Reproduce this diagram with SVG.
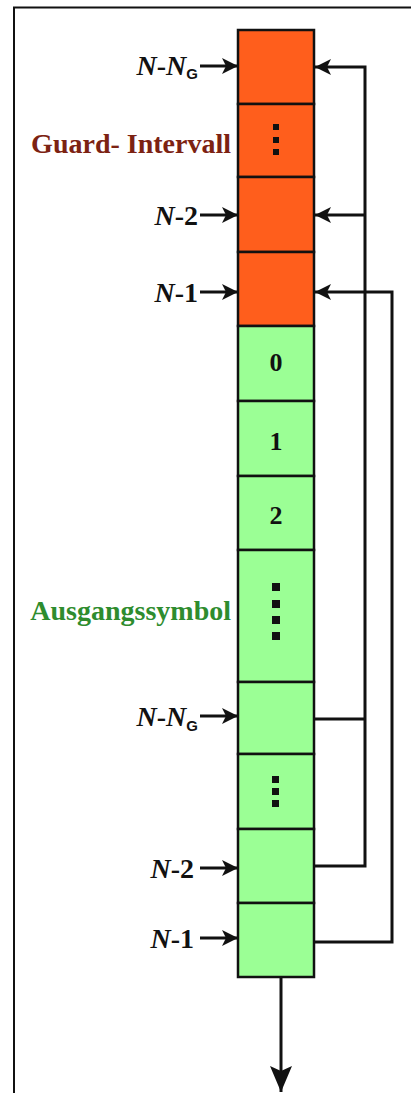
<svg xmlns="http://www.w3.org/2000/svg" width="411" height="1093" viewBox="0 0 411 1093">
<style>
.og{fill:#FF5E1C;stroke:#111;stroke-width:2.5}
.gr{fill:#9BFF95;stroke:#111;stroke-width:2.5}
.ln{fill:none;stroke:#111;stroke-width:3}
.lbl{font-family:"Liberation Serif",serif;font-size:28px;font-weight:bold;fill:#111}
.it{font-style:italic}
.sub{font-family:"Liberation Sans",sans-serif;font-size:15px;font-weight:bold}
.num{font-family:"Liberation Serif",serif;font-size:26px;font-weight:bold;fill:#111;text-anchor:middle}
.dot{fill:#111}
</style>
<defs>
<marker id="ah" viewBox="0 0 16 16" refX="16" refY="8" markerWidth="16" markerHeight="16" markerUnits="userSpaceOnUse" orient="auto">
<path d="M0,0 L16,8 L0,16 L4,8 Z" fill="#111"/>
</marker>
<marker id="ahb" viewBox="0 0 26 22" refX="26" refY="11" markerWidth="26" markerHeight="22" markerUnits="userSpaceOnUse" orient="auto">
<path d="M0,0 L26,11 L0,22 L5,11 Z" fill="#111"/>
</marker>
</defs>
<rect width="411" height="1093" fill="#fff"/>
<path d="M14,1093 V7.5 H411" fill="none" stroke="#111" stroke-width="2"/>

<g id="cell-1"><rect class="og" x="238" y="30" width="76" height="74"/></g>
<g id="cell-2"><rect class="og" x="238" y="104" width="76" height="73"/>
<rect class="dot" x="273" y="124" width="6" height="6"/><rect class="dot" x="273" y="137" width="6" height="6"/><rect class="dot" x="273" y="149" width="6" height="6"/></g>
<g id="cell-3"><rect class="og" x="238" y="177" width="76" height="75"/></g>
<g id="cell-4"><rect class="og" x="238" y="252" width="76" height="74"/></g>
<g id="cell-5"><rect class="gr" x="238" y="326" width="76" height="75"/><text class="num" x="276" y="371">0</text></g>
<g id="cell-6"><rect class="gr" x="238" y="401" width="76" height="75"/><text class="num" x="276" y="450">1</text></g>
<g id="cell-7"><rect class="gr" x="238" y="476" width="76" height="74"/><text class="num" x="276" y="524">2</text></g>
<g id="cell-8"><rect class="gr" x="238" y="550" width="76" height="132"/>
<rect class="dot" x="272" y="583" width="8" height="8"/><rect class="dot" x="272" y="600" width="8" height="8"/><rect class="dot" x="272" y="616" width="8" height="8"/><rect class="dot" x="272" y="632" width="8" height="8"/></g>
<g id="cell-9"><rect class="gr" x="238" y="682" width="76" height="72"/></g>
<g id="cell-10"><rect class="gr" x="238" y="754" width="76" height="75"/>
<rect class="dot" x="272" y="776" width="7" height="7"/><rect class="dot" x="272" y="788" width="7" height="7"/><rect class="dot" x="272" y="800" width="7" height="7"/></g>
<g id="cell-11"><rect class="gr" x="238" y="829" width="76" height="74"/></g>
<g id="cell-12"><rect class="gr" x="238" y="903" width="76" height="74"/></g>

<g id="labels">
<text class="lbl" x="198" y="75" text-anchor="end"><tspan class="it">N</tspan>-<tspan class="it">N</tspan><tspan class="sub" dy="4">G</tspan></text>
<text class="lbl" x="231" y="153" text-anchor="end" style="fill:#7C2212">Guard- Intervall</text>
<text class="lbl" x="198" y="225" text-anchor="end"><tspan class="it">N</tspan>-2</text>
<text class="lbl" x="198" y="302" text-anchor="end"><tspan class="it">N</tspan>-1</text>
<text class="lbl" x="231" y="620" text-anchor="end" style="fill:#2E8C2E">Ausgangssymbol</text>
<text class="lbl" x="198" y="726" text-anchor="end"><tspan class="it">N</tspan>-<tspan class="it">N</tspan><tspan class="sub" dy="5">G</tspan></text>
<text class="lbl" x="194" y="878" text-anchor="end"><tspan class="it">N</tspan>-2</text>
<text class="lbl" x="194" y="948" text-anchor="end"><tspan class="it">N</tspan>-1</text>
</g>

<g id="connectors">
<line class="ln" x1="200" y1="66" x2="238" y2="66" marker-end="url(#ah)"/>
<line class="ln" x1="200" y1="215" x2="238" y2="215" marker-end="url(#ah)"/>
<line class="ln" x1="200" y1="292" x2="238" y2="292" marker-end="url(#ah)"/>
<line class="ln" x1="200" y1="716" x2="238" y2="716" marker-end="url(#ah)"/>
<line class="ln" x1="200" y1="868" x2="238" y2="868" marker-end="url(#ah)"/>
<line class="ln" x1="200" y1="938" x2="238" y2="938" marker-end="url(#ah)"/>
<path class="ln" d="M314,866 H365 V67 H315" marker-end="url(#ah)"/>
<path class="ln" d="M314,719 H365"/>
<path class="ln" d="M365,215 H315" marker-end="url(#ah)"/>
<path class="ln" d="M314,942 H392 V292 H315" marker-end="url(#ah)"/>
<line class="ln" x1="281" y1="977" x2="281" y2="1092" marker-end="url(#ahb)"/>
</g>
</svg>
